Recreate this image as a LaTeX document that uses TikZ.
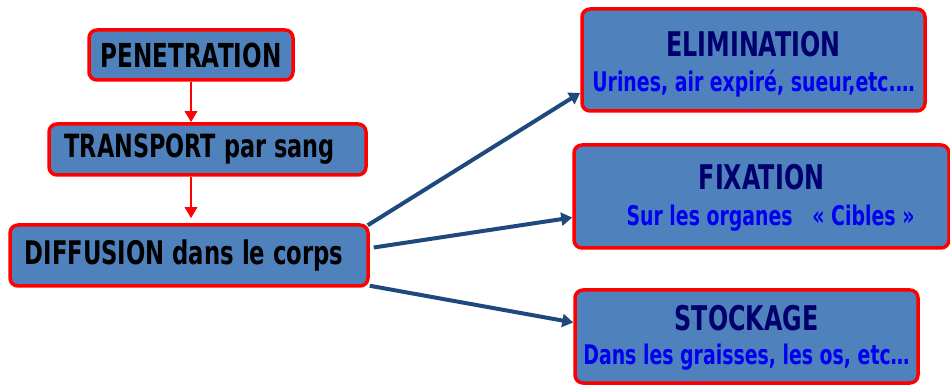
\documentclass[tikz,border=0pt]{standalone}
\usepackage{fontspec}
\setmainfont[FakeStretch=0.70]{DejaVu Sans}
\usetikzlibrary{arrows.meta}
\definecolor{boxfill}{RGB}{79,129,189}
\definecolor{arrblue}{RGB}{31,73,125}
\definecolor{titlenavy}{RGB}{0,0,110}
\definecolor{subblue}{RGB}{0,0,240}
\tikzset{
  stepbox/.style={draw=red, line width=3.5pt, fill=boxfill, rounded corners=8pt, inner sep=0pt, font=\bfseries\fontsize{33}{38}\selectfont},
  redarrow/.style={draw=red, line width=2.8pt, -{Triangle[length=11pt,width=12pt]}},
  bluearrow/.style={draw=arrblue, line width=4pt, -{Triangle[length=11pt,width=13pt]}},
}
\newcommand{\ttltext}[1]{{\color{titlenavy}\fontsize{34}{38}\selectfont #1}}
\newcommand{\subtext}[1]{{\color{subblue}\fontsize{27}{31}\selectfont #1}}
\newcommand{\lowered}[2]{\raisebox{-#1}[\height][\depth]{\begin{tabular}{@{}c@{}}#2\end{tabular}}}
\begin{document}
\begin{tikzpicture}[x=1pt,y=-1pt]
\useasboundingbox (0,0) rectangle (950,387);
\node[stepbox, minimum width=204pt, minimum height=50pt] (pen) at (191,55) {PENETRATION};
\node[stepbox, minimum width=317pt, minimum height=51pt, font=\bfseries\fontsize{32}{38}\selectfont] (trans) at (207.5,149.5) {\hspace*{-16pt}TRANSPORT par sang};
\node[stepbox, minimum width=358pt, minimum height=61pt, font=\bfseries\fontsize{32.5}{38}\selectfont] (diff) at (189,255.5) {\hspace*{-10pt}DIFFUSION dans le corps};
\node[stepbox, minimum width=343pt, minimum height=102pt] (elim) at (753.5,60) {\lowered{6pt}{\ttltext{ELIMINATION}\\[-3pt]\subtext{Urines, air expiré, sueur,etc.…}}};
\node[stepbox, minimum width=375pt, minimum height=103pt] (fix) at (761.5,196.5) {\lowered{3pt}{\ttltext{FIXATION}\\[-2pt]\hspace*{18pt}\subtext{Sur les organes \ \ « Cibles »}}};
\node[stepbox, minimum width=343pt, minimum height=93pt] (stock) at (746.5,336.5) {\lowered{3pt}{\ttltext{STOCKAGE}\\[-4pt]\subtext{Dans les graisses, les os, etc…}}};
\draw[redarrow] (pen.south) -- (trans.north -| pen.south);
\draw[redarrow, shorten >=5pt] (trans.south -| pen.south) -- (diff.north -| pen.south);
\draw[bluearrow] ([xshift=-2pt,yshift=-2pt]diff.north east) -- ([yshift=20pt]elim.south west);
\draw[bluearrow] ([xshift=4pt,yshift=8pt]diff.east) -- ([yshift=-21pt]fix.west);
\draw[bluearrow] ([yshift=2pt]diff.south east) -- ([yshift=14pt]stock.west);
\end{tikzpicture}
\end{document}
